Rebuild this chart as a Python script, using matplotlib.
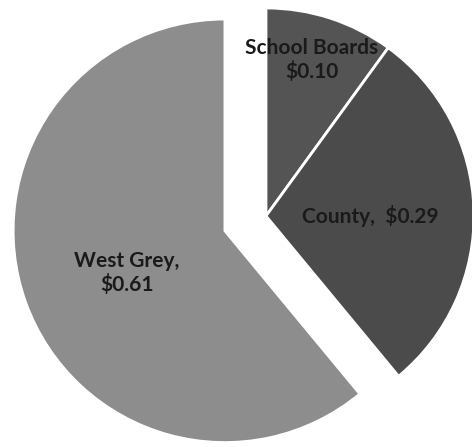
import matplotlib as mpl
mpl.use('Agg')
import matplotlib.pyplot as plt

labels = ['School Boards', 'County', 'West Grey']
values = [0.10, 0.29, 0.61]
colors = ['#545454', '#4b4b4b', '#8d8d8d']
explode = [0, 0, 0.21]

fig = plt.figure(figsize=(4.72, 4.47), dpi=100)
ax = fig.add_axes([0, 0, 1, 1])
wedges, _ = ax.pie(values, colors=colors, explode=explode, startangle=90, counterclock=False,
                   radius=1.0, wedgeprops=dict(edgecolor='white', linewidth=2))
# the pulled-out slice is drawn a touch bigger in the scan
wedges[2].set_radius(1.018)

# label positions
font = dict(family=['Lato', 'DejaVu Sans'], fontsize=15, fontweight='bold',
            color='#1a1a1a', ha='center', va='center')
ax.text(0.22, 0.75, labels[0] + '\n\\$%.2f' % values[0], linespacing=1.2, **font)
ax.text(0.50, 0.0, labels[1] + ',  \\$%.2f' % values[1], **font)
ax.text(-0.67, -0.275, labels[2] + ',\n\\$%.2f' % values[2], linespacing=1.2, **font)

ax.set_xlim(-266 / 208, 206 / 208)
ax.set_ylim(-231 / 208, 216 / 208)
ax.set_aspect('equal')
ax.axis('off')

plt.savefig('out.png', dpi=100, facecolor='white')
